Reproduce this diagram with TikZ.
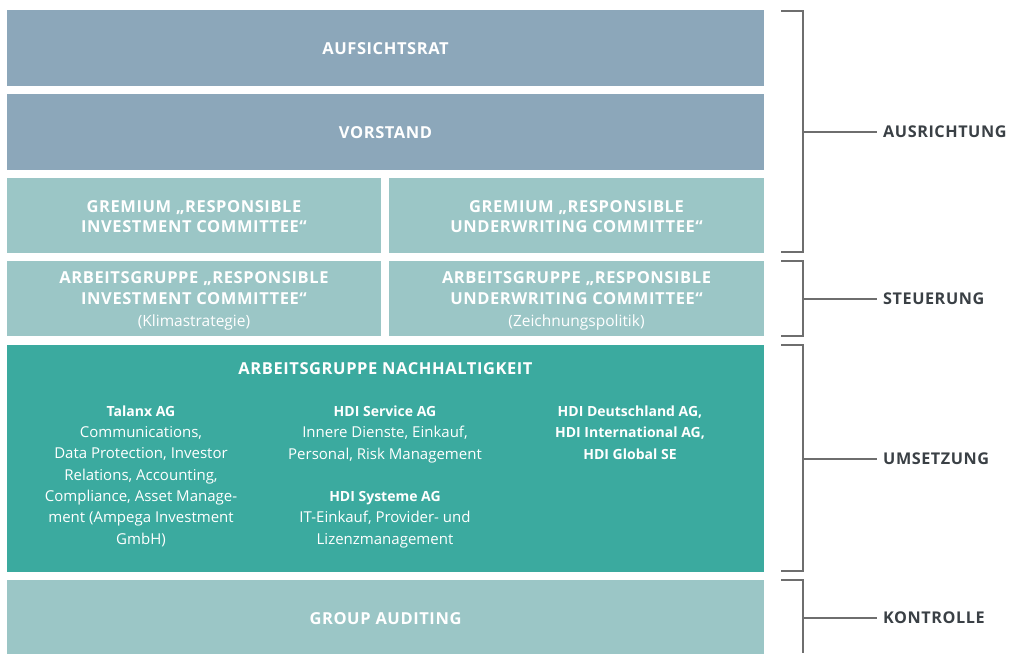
\documentclass[tikz,border=0pt]{standalone}
\usepackage{fontspec}
\setmainfont{Open Sans}
\newfontfamily\spacedfont[LetterSpace=3.5]{Open Sans}
\definecolor{slate}{HTML}{8CA7BA}
\definecolor{lteal}{HTML}{9BC6C6}
\definecolor{dteal}{HTML}{3BAA9F}
\definecolor{lbl}{HTML}{3A4045}
\definecolor{brk}{HTML}{6E6E6E}
\begin{document}
\begin{tikzpicture}[x=1pt,y=-1pt,
  box/.style={inner sep=0, outer sep=0, draw=none},
  head/.style={text=white, font=\spacedfont\fontsize{16.5}{20.5}\selectfont\bfseries, align=center, inner sep=0},
  sub/.style={text=white, font=\fontsize{15.5}{21.3}\selectfont, align=center, inner sep=0},
  body/.style={text=white, font=\fontsize{15}{21.3}\selectfont, align=center, inner sep=0},
  bodyb/.style={text=white, font=\fontsize{14}{21.3}\selectfont\bfseries, align=center, inner sep=0},
  side/.style={text=lbl, font=\spacedfont\fontsize{16.2}{17}\selectfont\bfseries, anchor=west, inner sep=0},
  bline/.style={draw=brk, line width=1.1pt},
]
\useasboundingbox (0,0) rectangle (1011,653);
% boxes
\node[box, fill=slate, minimum width=757, minimum height=76] (ar) at (385.5,48) {};
\node[box, fill=slate, minimum width=757, minimum height=76] (vs) at (385.5,132) {};
\node[box, fill=lteal, minimum width=374, minimum height=75] (gl) at (194,215.5) {};
\node[box, fill=lteal, minimum width=375, minimum height=75] (gr) at (576.5,215.5) {};
\node[box, fill=lteal, minimum width=374, minimum height=75] (al) at (194,298.5) {};
\node[box, fill=lteal, minimum width=375, minimum height=75] (ar2) at (576.5,298.5) {};
\node[box, fill=dteal, minimum width=757, minimum height=227] (nh) at (385.5,458.5) {};
\node[box, fill=lteal, minimum width=757, minimum height=74] (ga) at (385.5,617) {};
% texts
\node[head] (tar) at (385.5,48.5) {AUFSICHTSRAT};
\node[head] (tvs) at (385.5,132.5) {VORSTAND};
\node[head] (tgl) at (194,216.5) {GREMIUM „RESPONSIBLE\\INVESTMENT COMMITTEE“};
\node[head] (tgr) at (576.5,216.5) {GREMIUM „RESPONSIBLE\\UNDERWRITING COMMITTEE“};
\node[head, anchor=base] (tal) at (194,304) {ARBEITSGRUPPE „RESPONSIBLE\\INVESTMENT COMMITTEE“};
\node[sub, anchor=base] (tals) at (194,326) {(Klimastrategie)};
\node[head, anchor=base] (tar2) at (576.5,304) {ARBEITSGRUPPE „RESPONSIBLE\\UNDERWRITING COMMITTEE“};
\node[sub, anchor=base] (tar2s) at (576.5,326) {(Zeichnungspolitik)};
\node[head] (tnh) at (385.5,368.5) {ARBEITSGRUPPE NACHHALTIGKEIT};
\node[body, anchor=base] (tal1) at (141,544) {{\bfseries\fontsize{14}{21.3}\selectfont Talanx AG}\\Communications,\\Data Protection, Investor\\Relations, Accounting,\\Compliance, Asset Manage-\\ment (Ampega Investment\\GmbH)};
\node[body, anchor=base] (hs) at (385,459) {{\bfseries\fontsize{14}{21.3}\selectfont HDI Service AG}\\Innere Dienste, Einkauf,\\Personal, Risk Management};
\node[body, anchor=base] (hy) at (385,544) {{\bfseries\fontsize{14}{21.3}\selectfont HDI Systeme AG}\\IT-Einkauf, Provider- und\\Lizenzmanagement};
\node[bodyb, anchor=base] (hd) at (630,459) {HDI Deutschland AG,\\HDI International AG,\\HDI Global SE};
\node[head] (tga) at (385.5,618.5) {GROUP AUDITING};
% side labels
\node[side] (s1) at (883,132) {AUSRICHTUNG};
\node[side] (s2) at (883,299) {STEUERUNG};
\node[side] (s3) at (883,459) {UMSETZUNG};
\node[side] (s4) at (883,618) {KONTROLLE};
% brackets
\coordinate (vx) at (803,0);
\coordinate (b1t) at (781,11); \coordinate (b1b) at (781,252);
\coordinate (b2t) at (781,261); \coordinate (b2b) at (781,336);
\coordinate (b3t) at (781,345); \coordinate (b3b) at (781,571);
\coordinate (b4t) at (781,580); \coordinate (b4b) at (803,653);
\draw[bline] (b1t) -- (b1t -| vx) -- (b1b -| vx) -- (b1b);
\draw[bline] (s1.west -| vx) -- ([xshift=-6pt]s1.west);
\draw[bline] (b2t) -- (b2t -| vx) -- (b2b -| vx) -- (b2b);
\draw[bline] (s2.west -| vx) -- ([xshift=-6pt]s2.west);
\draw[bline] (b3t) -- (b3t -| vx) -- (b3b -| vx) -- (b3b);
\draw[bline] (s3.west -| vx) -- ([xshift=-6pt]s3.west);
\draw[bline] (b4t) -- (b4t -| vx) -- (b4b);
\draw[bline] (s4.west -| vx) -- ([xshift=-6pt]s4.west);
\end{tikzpicture}
\end{document}
